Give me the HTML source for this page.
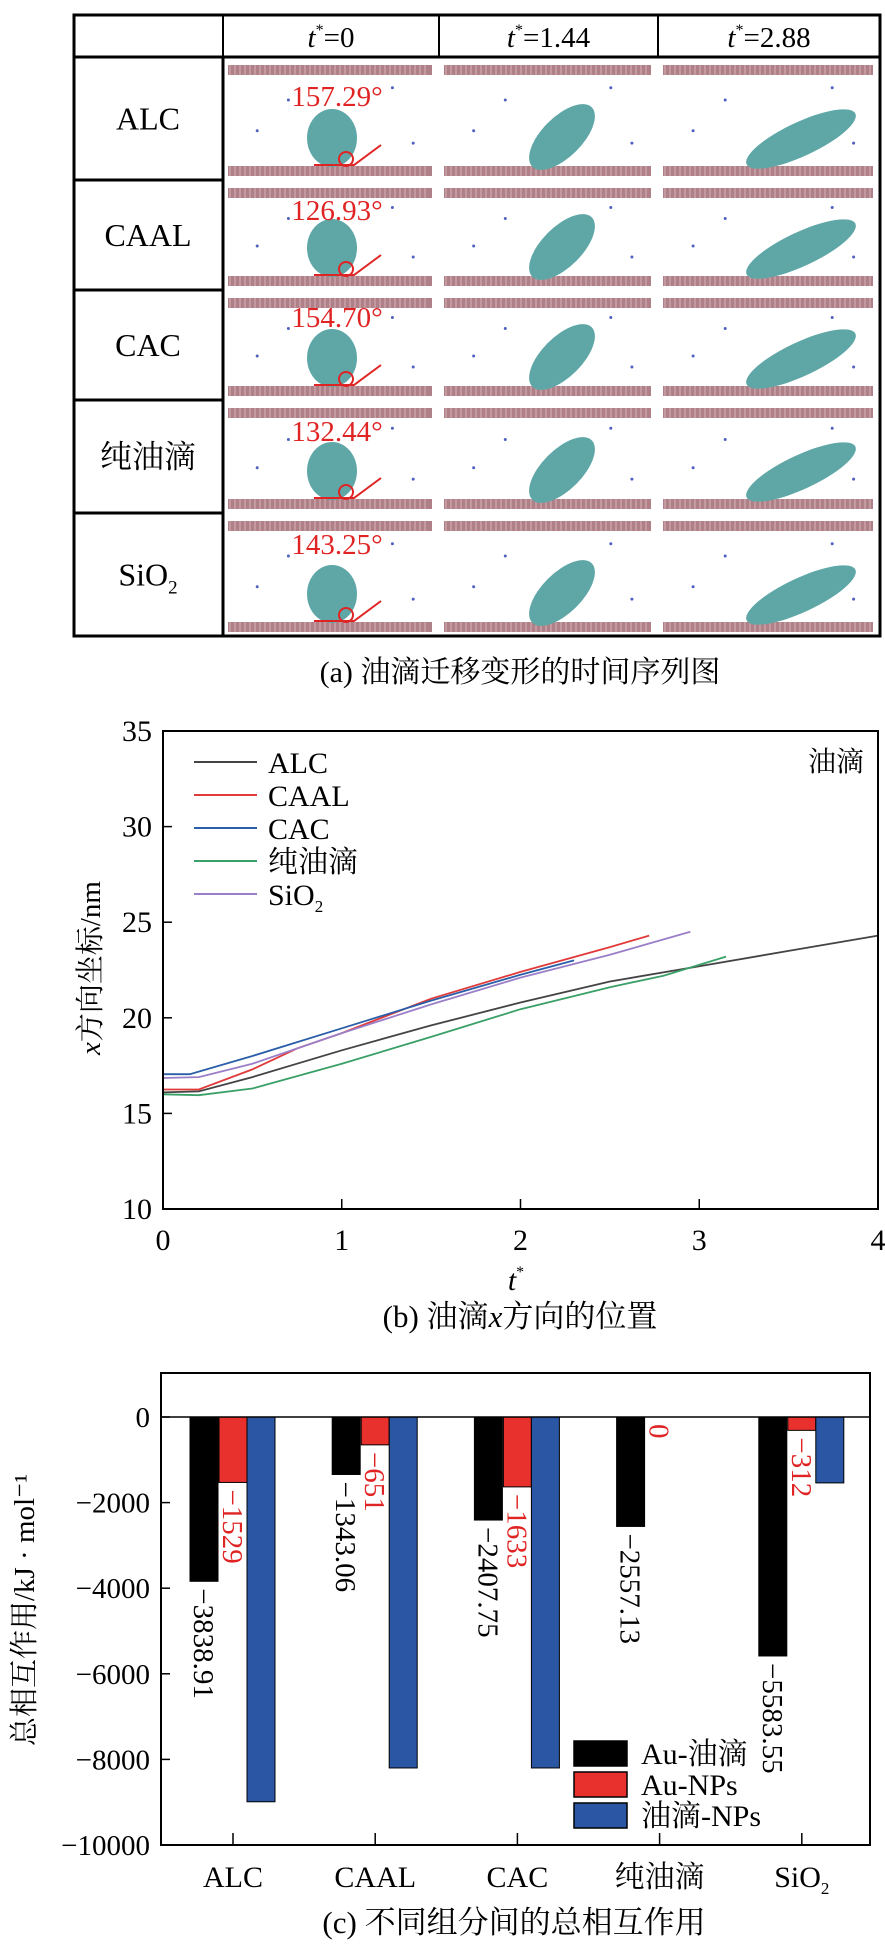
<!DOCTYPE html>
<html><head><meta charset="utf-8"><style>
html,body{margin:0;padding:0;background:#fff}
svg{display:block}
text{font-family:"Liberation Serif","Noto Serif CJK SC",serif}
</style></head><body>
<svg id="fig" width="885" height="1946" viewBox="0 0 885 1946" xmlns="http://www.w3.org/2000/svg" fill="#000">
<g id="panelA"></g>
<text x="520" y="682" font-size="30" text-anchor="middle">(a) 油滴迁移变形的时间序列图</text>
<g id="panelB"></g>
<g id="panelC"></g>
</svg>
<script>
const NS="http://www.w3.org/2000/svg";
function mk(parent,tag,attrs,txt){const e=document.createElementNS(NS,tag);for(const k in attrs)e.setAttribute(k,attrs[k]);if(txt!==undefined)e.textContent=txt;parent.appendChild(e);return e;}

// ---------- Panel A ----------
const rowNames=["ALC","CAAL","CAC","纯油滴","SiO2"];
const angles=["157.29°","126.93°","154.70°","132.44°","143.25°"];
const colHeads=["0","1.44","2.88"];
(function(){
const A=document.getElementById('panelA');
const rows=[57,180,290,400,513,636];
const cols=[223,439,658,880];
mk(A,'rect',{x:74,y:15,width:806,height:621,fill:'none',stroke:'#000','stroke-width':3});
mk(A,'line',{x1:74,y1:57,x2:880,y2:57,stroke:'#000','stroke-width':3});
[223,439,658].forEach(x=>mk(A,'line',{x1:x,y1:15,x2:x,y2:57,stroke:'#000','stroke-width':2}));
mk(A,'line',{x1:223,y1:57,x2:223,y2:636,stroke:'#000','stroke-width':3});
for(let i=1;i<5;i++)mk(A,'line',{x1:74,y1:rows[i],x2:223,y2:rows[i],stroke:'#000','stroke-width':3});
colHeads.forEach((h,i)=>{
  const t=mk(A,'text',{x:(cols[i]+cols[i+1])/2,y:47,'font-size':29,'text-anchor':'middle'});
  
  
  mk(t,'tspan',{'font-style':'italic'},'t');
  mk(t,'tspan',{'font-size':16,dy:-12},'*');
  mk(t,'tspan',{dy:12},'='+h);
});
rowNames.forEach((n,r)=>{
  const cy=(rows[r]+rows[r+1])/2+11;
  const t=mk(A,'text',{x:148,y:cy,'font-size':32,'text-anchor':'middle'});
  
  
  if(n==="SiO2"){mk(t,'tspan',{},'SiO');mk(t,'tspan',{'font-size':19,dy:8},'2');}
  else t.textContent=n;
  for(let c=0;c<3;c++){
    const x0=cols[c]+3,x1=cols[c+1]-5,y0=rows[r],y1=rows[r+1];
    const g=mk(A,'g',{});
    
    
    mk(g,'rect',{x:x0+2,y:y0+8,width:x1-x0-4,height:10,fill:'#b08088'});
    mk(g,'rect',{x:x0+2,y:y1-14,width:x1-x0-4,height:10,fill:'#b08088'});
    for(let k=x0+4;k<x1-4;k+=5){mk(g,'line',{x1:k,y1:y0+8,x2:k,y2:y0+18,stroke:'#d4b4b8','stroke-width':1});mk(g,'line',{x1:k,y1:y1-14,x2:k,y2:y1-4,stroke:'#d4b4b8','stroke-width':1});}
    const by=y1-15;
    if(c===0){
      mk(g,'ellipse',{cx:x0+106,cy:by-27,rx:25,ry:29,fill:'#5fa7a7'});
      mk(g,'polyline',{points:`${x0+88},${by} ${x0+128},${by} ${x0+155},${by-20}`,fill:'none',stroke:'#e02424','stroke-width':2});
      mk(g,'circle',{cx:x0+120,cy:by-6,r:7,fill:'none',stroke:'#e02424','stroke-width':2});
    }else if(c===1){
      mk(g,'ellipse',{cx:x0+120,cy:by-28,rx:42,ry:20,fill:'#5fa7a7',transform:`rotate(-45 ${x0+120} ${by-28})`});
    }else{
      mk(g,'ellipse',{cx:x0+140,cy:by-26,rx:60,ry:17,fill:'#5fa7a7',transform:`rotate(-25 ${x0+140} ${by-26})`});
    }
    [[0.3,0.35],[0.8,0.25],[0.15,0.6],[0.9,0.7]].forEach(p=>mk(g,'circle',{cx:x0+(x1-x0)*p[0],cy:y0+(y1-y0)*p[1],r:1.5,fill:'#5060c0'}));
  }
  const at=mk(A,'text',{x:337,y:[106,220,327,441,554][r],'font-size':29,'text-anchor':'middle',fill:'#e02424'},angles[r]);
  
  
});
})();

// ---------- Panel B ----------
const tALC=[0,0.2,0.5,1,1.5,2,2.5,3,3.5,4];
const xALC=[16.1,16.15,16.9,18.3,19.6,20.8,21.9,22.7,23.5,24.3];
const tCAAL=[0,0.2,0.5,0.75,1,1.5,2,2.5,2.72];
const xCAAL=[16.25,16.25,17.3,18.4,19.2,21.0,22.4,23.7,24.3];
const tCAC=[0,0.15,0.5,1,1.5,2,2.3];
const xCAC=[17.05,17.05,18.0,19.45,20.9,22.25,23.0];
const tOil=[0,0.2,0.5,1,1.5,2,2.5,2.8,3.15];
const xOil=[16.0,15.95,16.3,17.6,19.0,20.45,21.6,22.2,23.2];
const tSiO2=[0,0.2,0.5,1,1.5,2,2.5,2.95];
const xSiO2=[16.85,16.9,17.6,19.2,20.7,22.1,23.3,24.5];
const bXTicks=[0,1,2,3,4];
const bYTicks=[10,15,20,25,30,35];
(function(){
const B=document.getElementById('panelB');
const L=163,R=878,T=731,Bt=1209;
const sx=t=>L+(t-0)/(4-0)*(R-L);
const sy=v=>Bt-(v-10)/(35-10)*(Bt-T);
const series=[["ALC",tALC,xALC,"#444444"],["CAAL",tCAAL,xCAAL,"#e03a3a"],["CAC",tCAC,xCAC,"#2a5ea8"],["纯油滴",tOil,xOil,"#3aa068"],["SiO2",tSiO2,xSiO2,"#9a7fc8"]];
series.forEach((s,i)=>{
  const p=mk(B,'path',{d:s[1].map((t,j)=>(j?'L':'M')+sx(t).toFixed(1)+','+sy(s[2][j]).toFixed(1)).join(''),fill:'none',stroke:s[3],'stroke-width':1.8});
  
  
  const ly=762+i*33;
  const ll=mk(B,'line',{x1:194,y1:ly,x2:257,y2:ly,stroke:s[3],'stroke-width':2});
  
  
  const lt=mk(B,'text',{x:268,y:ly+11,'font-size':30});
  
  
  if(s[0]==="SiO2"){mk(lt,'tspan',{},'SiO');mk(lt,'tspan',{'font-size':17,dy:7},'2');}else lt.textContent=s[0];
});
const fr=mk(B,'rect',{x:L,y:T,width:R-L,height:Bt-T,fill:'none',stroke:'#000','stroke-width':2});


bXTicks.forEach(t=>{
  mk(B,'line',{x1:sx(t),y1:Bt,x2:sx(t),y2:Bt-10,stroke:'#000','stroke-width':1.5});
  const e=mk(B,'text',{x:sx(t),y:1250,'font-size':30,'text-anchor':'middle'},String(t));
  
  
});
bYTicks.forEach(v=>{
  mk(B,'line',{x1:L,y1:sy(v),x2:L+9,y2:sy(v),stroke:'#000','stroke-width':1.5});
  const e=mk(B,'text',{x:152,y:sy(v)+10,'font-size':30,'text-anchor':'end'},String(v));
  
  
});
const xt=mk(B,'text',{x:516,y:1290,'font-size':30,'text-anchor':'middle'});


mk(xt,'tspan',{'font-style':'italic'},'t');mk(xt,'tspan',{'font-size':16,dy:-13},'*');
const yt=mk(B,'text',{x:0,y:0,'font-size':29,'text-anchor':'middle',transform:'translate(100,968) rotate(-90)'});


mk(yt,'tspan',{'font-style':'italic'},'x');mk(yt,'tspan',{},'方向坐标/nm');
const ann=mk(B,'text',{x:864,y:771,'font-size':28,'text-anchor':'end'},'油滴');


const cap=mk(B,'text',{x:520,y:1327,'font-size':31,'text-anchor':'middle'});


mk(cap,'tspan',{},'(b) 油滴');mk(cap,'tspan',{'font-style':'italic'},'x');mk(cap,'tspan',{},'方向的位置');
})();

// ---------- Panel C ----------
const cats=["ALC","CAAL","CAC","纯油滴","SiO2"];
const auOil=[-3838.91,-1343.06,-2407.75,-2557.13,-5583.55];
const auNPs=[-1529,-651,-1633,0,-312];
const oilNPs=[-8990,-8200,-8200,0,-1540];
const auOilLbl=["−3838.91","−1343.06","−2407.75","−2557.13","−5583.55"];
const auNPsLbl=["−1529","−651","−1633","0","−312"];
const cYTicks=[0,-2000,-4000,-6000,-8000,-10000];
(function(){
const C=document.getElementById('panelC');
const L=161,R=870,T=1373,Bt=1845;
const sy=v=>1417+(0-v)/10000*(Bt-1417);
const cx=i=>233+i*142.2;
const bw=28;
const groups=[[auOil,"#000000",-29,auOilLbl,"#000"],[auNPs,"#e8302c",0,auNPsLbl,"#e02424"],[oilNPs,"#2a56a4",28,null,null]];
groups.forEach((g,gi)=>{
  g[0].forEach((v,i)=>{
    const x=cx(i)+g[2];
    if(v<0){
      const r=mk(C,'rect',{x:x-bw/2,y:sy(0),width:bw,height:sy(v)-sy(0),fill:g[1],stroke:'#000','stroke-width':1});
      
      
    }
    if(g[3]){
      const yy=sy(v)+7;
      const t=mk(C,'text',{x:0,y:0,'font-size':29,fill:g[4],transform:`translate(${x-10},${yy}) rotate(90)`},g[3][i]);
      
      
    }
  });
});
mk(C,'line',{x1:L,y1:sy(0),x2:R,y2:sy(0),stroke:'#000','stroke-width':1.5});
const fr=mk(C,'rect',{x:L,y:T,width:R-L,height:Bt-T,fill:'none',stroke:'#000','stroke-width':2});


cYTicks.forEach(v=>{
  mk(C,'line',{x1:L,y1:sy(v),x2:L+9,y2:sy(v),stroke:'#000','stroke-width':1.5});
  const e=mk(C,'text',{x:150,y:sy(v)+10,'font-size':29,'text-anchor':'end'},v===0?'0':'−'+String(-v));
  
  
});
cats.forEach((c,i)=>{
  mk(C,'line',{x1:cx(i),y1:Bt,x2:cx(i),y2:Bt-12,stroke:'#000','stroke-width':1.5});
  const t=mk(C,'text',{x:cx(i),y:1887,'font-size':30,'text-anchor':'middle'});
  
  
  if(c==="SiO2"){mk(t,'tspan',{},'SiO');mk(t,'tspan',{'font-size':17,dy:7},'2');}else t.textContent=c;
});
const yt=mk(C,'text',{x:0,y:0,'font-size':29,'text-anchor':'middle',transform:'translate(34,1610) rotate(-90)'},'总相互作用/kJ · mol⁻¹');


const leg=[["Au-油滴","#000"],["Au-NPs","#e8302c"],["油滴-NPs","#2a56a4"]];
leg.forEach((l,i)=>{
  const y=1741+i*31;
  const r=mk(C,'rect',{x:574,y:y,width:53,height:25,fill:l[1],stroke:'#000','stroke-width':1.5});
  
  
  const t=mk(C,'text',{x:641,y:y+23,'font-size':30},l[0]);
  
  
});
const cap=mk(C,'text',{x:514,y:1933,'font-size':31,'text-anchor':'middle'},'(c) 不同组分间的总相互作用');


})();
</script>
</body></html>
